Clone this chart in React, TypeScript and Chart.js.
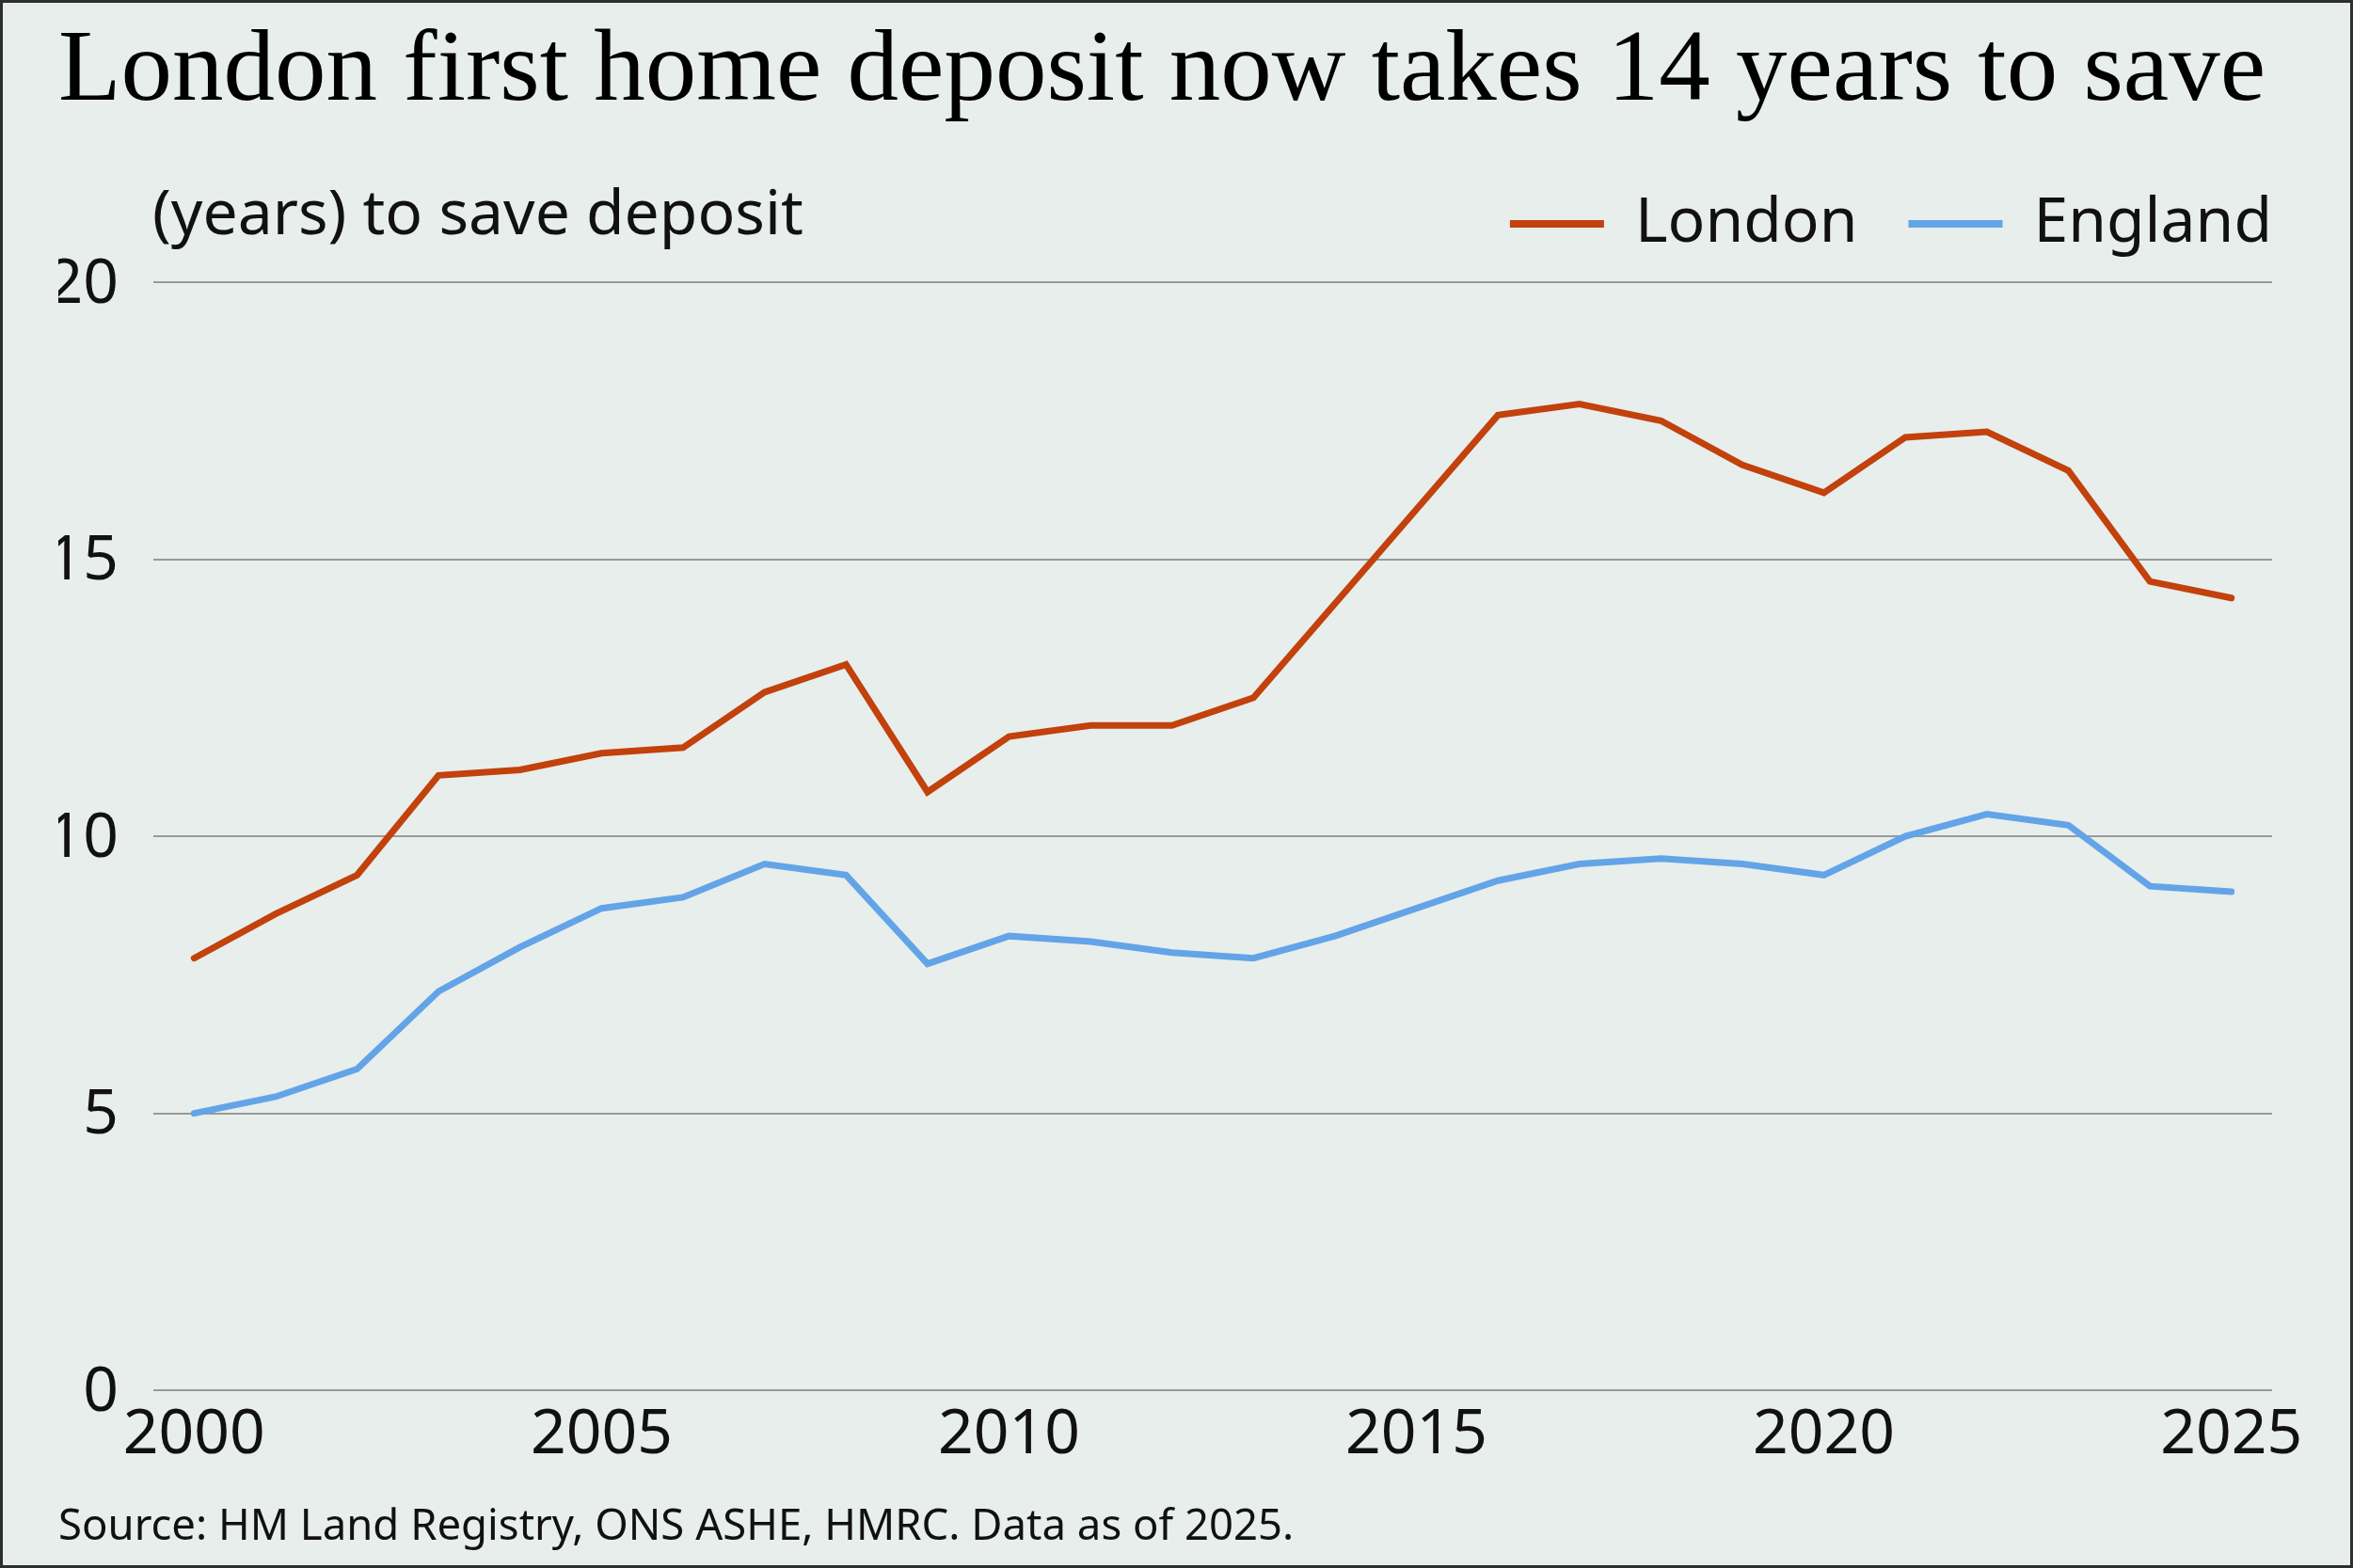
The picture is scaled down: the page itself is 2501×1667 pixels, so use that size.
import { useEffect, useRef } from "react";
import { Chart, registerables } from "chart.js";

Chart.register(...registerables);

// Years on the x axis
const years = [
  "2000", "2001", "2002", "2003", "2004", "2005", "2006", "2007", "2008",
  "2009", "2010", "2011", "2012", "2013", "2014", "2015", "2016", "2017",
  "2018", "2019", "2020", "2021", "2022", "2023", "2024", "2025",
];

// Years needed to save a first home deposit
const londonYears = [
  7.8, 8.6, 9.3, 11.1, 11.2, 11.5, 11.6, 12.6, 13.1, 10.8, 11.8, 12.0, 12.0,
  12.5, 14.2, 15.9, 17.6, 17.8, 17.5, 16.7, 16.2, 17.2, 17.3, 16.6, 14.6, 14.3,
];
const englandYears = [
  5.0, 5.3, 5.8, 7.2, 8.0, 8.7, 8.9, 9.5, 9.3, 7.7, 8.2, 8.1, 7.9,
  7.8, 8.2, 8.7, 9.2, 9.5, 9.6, 9.5, 9.3, 10.0, 10.4, 10.2, 9.1, 9.0,
];

// Labelled ticks
const yearTicks = ["2000", "2005", "2010", "2015", "2020", "2025"];
const valueTicks = [0, 5, 10, 15, 20];

const TITLE = "London first home deposit now takes 14 years to save";
const AXIS_LABEL = "(years) to save deposit";
const SOURCE = "Source: HM Land Registry, ONS ASHE, HMRC. Data as of 2025.";

const W = 2501;
const H = 1667;
const BG = "#E8EEEB";
const INK = "#111111";
const SANS = "'Noto Sans', sans-serif";
const SERIF = "'Liberation Serif', serif";

// Background fill and the thin dark frame around the graphic
const framePlugin = {
  id: "frame",
  beforeDraw(chart: any) {
    const { ctx, width, height } = chart;
    ctx.save();
    ctx.fillStyle = BG;
    ctx.fillRect(0, 0, width, height);
    ctx.restore();
  },
  afterDraw(chart: any) {
    const { ctx, width, height } = chart;
    ctx.save();
    ctx.strokeStyle = "#2e2e2e";
    ctx.lineWidth = 3;
    ctx.strokeRect(1.5, 1.5, width - 3, height - 3);
    ctx.restore();
  },
};

// Unit label sitting above the value axis, level with the legend
const axisLabelPlugin = {
  id: "axisLabel",
  afterDraw(chart: any) {
    const { ctx, chartArea } = chart;
    ctx.save();
    ctx.font = `66px ${SANS}`;
    ctx.fillStyle = INK;
    ctx.textAlign = "left";
    ctx.textBaseline = "alphabetic";
    ctx.fillText(AXIS_LABEL, chartArea.left - 1, chartArea.top - 51);
    ctx.restore();
  },
};

function lineDataset(label: string, data: number[], color: string) {
  return {
    label,
    data,
    borderColor: color,
    backgroundColor: color,
    borderWidth: 7,
    borderCapStyle: "round",
    borderJoinStyle: "miter",
    pointRadius: 0,
    pointHoverRadius: 0,
    pointBorderWidth: 8,
    tension: 0,
    xAxisID: "x",
    yAxisID: "y",
  };
}

export default function App() {
  const canvasRef = useRef<HTMLCanvasElement | null>(null);

  useEffect(() => {
    document.body.style.margin = "0";
    document.body.style.background = BG;
    const canvas = canvasRef.current;
    if (!canvas) return;

    const chart = new Chart(canvas, {
      type: "line",
      data: {
        labels: years,
        datasets: [
          lineDataset("London", londonYears, "#C2410C"),
          lineDataset("England", englandYears, "#63A4E8"),
        ],
      },
      options: {
        responsive: false,
        animation: false,
        devicePixelRatio: 1,
        events: [],
        layout: { padding: { top: 0, left: 62, right: 32, bottom: 0 } },
        plugins: {
          title: {
            display: true,
            text: TITLE,
            align: "start",
            color: "#000000",
            font: { family: SERIF, size: 109, weight: "normal", lineHeight: 1 },
            padding: { top: 23, bottom: 19 },
          },
          subtitle: {
            display: true,
            text: SOURCE,
            position: "bottom",
            align: "start",
            color: INK,
            font: { family: SANS, size: 45.5, weight: "normal", lineHeight: 1.2 },
            padding: { top: 31, bottom: 16 },
          },
          legend: {
            display: true,
            position: "top",
            align: "end",
            labels: {
              usePointStyle: true,
              pointStyle: "line",
              pointStyleWidth: 100,
              padding: 54,
              color: INK,
              font: { family: SANS, size: 66 },
            },
          },
          tooltip: { enabled: false },
        },
        scales: {
          x: {
            type: "category",
            position: "bottom",
            offset: true,
            grid: { display: false },
            border: { display: false },
            ticks: {
              autoSkip: false,
              maxRotation: 0,
              padding: 0,
              color: INK,
              font: { family: SANS, size: 66 },
              callback: (_v: any, index: number) =>
                yearTicks.includes(years[index]) ? years[index] : null,
            },
          },
          xTop: {
            type: "category",
            position: "top",
            grid: { display: false },
            border: { display: false },
            ticks: { display: false },
            afterFit: (s: any) => {
              s.height = 19;
            },
          },
          y: {
            type: "linear",
            position: "left",
            min: valueTicks[0],
            max: valueTicks[valueTicks.length - 1],
            grid: { color: "#9A9A9A", lineWidth: 2, drawTicks: false },
            border: { display: false },
            ticks: {
              stepSize: valueTicks[1] - valueTicks[0],
              padding: 37,
              labelOffset: 3,
              color: INK,
              font: { family: SANS, size: 66 },
            },
            afterFit: (s: any) => {
              s.width = 101;
            },
          },
          yRight: {
            type: "linear",
            position: "right",
            grid: { display: false },
            border: { display: false },
            ticks: { display: false },
            afterFit: (s: any) => {
              s.width = 54;
            },
          },
        },
      },
      plugins: [framePlugin, axisLabelPlugin],
    } as any);

    return () => chart.destroy();
  }, []);

  return (
    <div style={{ width: W, height: H, background: BG }}>
      <canvas
        ref={canvasRef}
        width={W}
        height={H}
        style={{ display: "block", width: W, height: H }}
      />
    </div>
  );
}
